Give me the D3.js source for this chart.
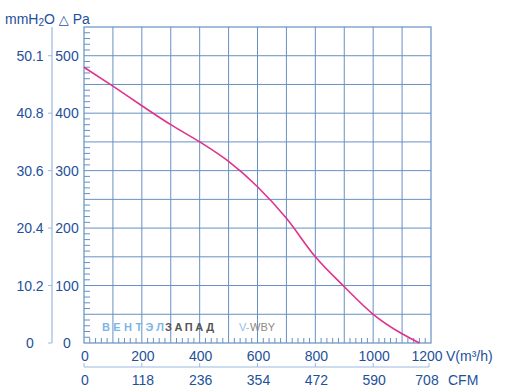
<!DOCTYPE html>
<html>
<head>
<meta charset="utf-8">
<script src="https://cdn.jsdelivr.net/npm/d3@7"></script>
<style>
  body { margin: 0; background: #fff; }
  text { font-family: "Liberation Sans", Arial, sans-serif; }
</style>
</head>
<body>
<div id="chart"></div>
<script>
// data
var flow = [0, 100, 200, 300, 400, 500, 600, 700, 800, 900, 1000, 1100, 1160];
var pressure = [480, 447, 413, 380, 350, 316, 272, 217, 150, 98, 50, 16, 0];

var flowTicks = [0, 200, 400, 600, 800, 1000, 1200];
var cfmLabels = ['0', '118', '236', '354', '472', '590', '708'];
var paTicks = [0, 100, 200, 300, 400, 500];
var mmLabels = ['0', '10.2', '20.4', '30.6', '40.8', '50.1'];

var W = 507, H = 391;
var textColor = '#1d519a';
var gridColor = '#6690c4';

var svg = d3.select('#chart')
  .append('svg')
  .attr('width', W)
  .attr('height', H);

var x = d3.scaleLinear().domain([0, 1200]).range([84, 431]);
var y = d3.scaleLinear().domain([0, 550]).range([343, 27]);

// grid
var g = svg.append('g');

g.selectAll('.vgrid')
  .data(d3.range(100, 1200, 100))
  .enter().append('line')
  .attr('x1', function(d) { return x(d); })
  .attr('x2', function(d) { return x(d); })
  .attr('y1', y(550))
  .attr('y2', y(0))
  .attr('stroke', gridColor)
  .attr('stroke-width', 1);

g.selectAll('.hgrid')
  .data(d3.range(50, 550, 50))
  .enter().append('line')
  .attr('x1', x(0))
  .attr('x2', x(1200))
  .attr('y1', function(d) { return y(d); })
  .attr('y2', function(d) { return y(d); })
  .attr('stroke', gridColor)
  .attr('stroke-width', 1);

// small ticks left (every 10 Pa) and bottom (every 20 m3/h)
g.selectAll('.lt')
  .data(d3.range(10, 550, 10).filter(function(d) { return d % 50 !== 0; }))
  .enter().append('line')
  .attr('x1', x(0))
  .attr('x2', x(0) + 6)
  .attr('y1', function(d) { return y(d); })
  .attr('y2', function(d) { return y(d); })
  .attr('stroke', gridColor);

g.selectAll('.bt')
  .data(d3.range(20, 1200, 20).filter(function(d) { return d % 100 !== 0; }))
  .enter().append('line')
  .attr('x1', function(d) { return x(d); })
  .attr('x2', function(d) { return x(d); })
  .attr('y1', y(0))
  .attr('y2', y(0) - 5)
  .attr('stroke', gridColor);

// frame
g.append('rect')
  .attr('x', x(0))
  .attr('y', y(550))
  .attr('width', x(1200) - x(0))
  .attr('height', y(0) - y(550))
  .attr('fill', 'none')
  .attr('stroke', gridColor)
  .attr('stroke-width', 1.2);

// watermark
var wm = svg.append('g').attr('font-size', '11px');
wm.append('text')
  .text('ВЕНТЭЛ')
  .attr('x', 102).attr('y', 331)
  .attr('textLength', 62).attr('lengthAdjust', 'spacing')
  .attr('font-weight', 'bold')
  .attr('fill', '#7db6e6');
wm.append('text')
  .text('ЗАПАД')
  .attr('x', 165).attr('y', 331)
  .attr('textLength', 49).attr('lengthAdjust', 'spacing')
  .attr('font-weight', 'bold')
  .attr('fill', '#555');
wm.append('text')
  .text('V-')
  .attr('x', 239).attr('y', 331)
  .attr('fill', '#8ec0ea');
wm.append('text')
  .text('WBY')
  .attr('x', 250).attr('y', 331)
  .attr('fill', '#8a8a8a');

// curve
var line = d3.line()
  .x(function(d, i) { return x(flow[i]); })
  .y(function(d) { return y(d); })
  .curve(d3.curveMonotoneX);

svg.append('path')
  .datum(pressure)
  .attr('d', line)
  .attr('fill', 'none')
  .attr('stroke', '#e0318d')
  .attr('stroke-width', 1.6);

// left axes
svg.append('line')
  .attr('x1', 52).attr('x2', 52)
  .attr('y1', y(550)).attr('y2', y(0))
  .attr('stroke', '#9cb9dd')
  .attr('stroke-width', 1.2);

svg.selectAll('.ltick')
  .data(paTicks)
  .enter().append('line')
  .attr('x1', 48).attr('x2', 52)
  .attr('y1', function(d) { return y(d); })
  .attr('y2', function(d) { return y(d); })
  .attr('stroke', '#9cb9dd');

svg.selectAll('.pa')
  .data(paTicks)
  .enter().append('text')
  .text(function(d) { return d; })
  .attr('x', 67)
  .attr('y', function(d) { return y(d) + 5; })
  .attr('text-anchor', 'middle')
  .attr('font-size', '14px')
  .attr('fill', textColor);

svg.selectAll('.mm')
  .data(mmLabels)
  .enter().append('text')
  .text(function(d) { return d; })
  .attr('x', 30)
  .attr('y', function(d, i) { return y(paTicks[i]) + 5; })
  .attr('text-anchor', 'middle')
  .attr('font-size', '14px')
  .attr('fill', textColor);

var head = svg.append('text')
  .attr('x', 5).attr('y', 24)
  .attr('font-size', '14px')
  .attr('fill', textColor);
head.append('tspan').text('mmH');
head.append('tspan').text('2').attr('font-size', '10px').attr('dy', 2);
head.append('tspan').text('O ').attr('dy', -2);
head.append('tspan').text('△').attr('font-size', '13px').attr('font-family', 'DejaVu Sans');
head.append('tspan').text(' Pa');

// bottom axes
svg.selectAll('.fl')
  .data(flowTicks)
  .enter().append('text')
  .text(function(d) { return d; })
  .attr('x', function(d) { return x(d) + (d === 1200 ? -4 : 1); })
  .attr('y', 361)
  .attr('text-anchor', 'middle')
  .attr('font-size', '14px')
  .attr('fill', textColor);

svg.append('text')
  .text('V(m³/h)')
  .attr('x', 446).attr('y', 361)
  .attr('font-size', '14px')
  .attr('fill', textColor);

svg.append('line')
  .attr('x1', x(0)).attr('x2', x(1200) - 2)
  .attr('y1', 367).attr('y2', 367)
  .attr('stroke', '#9cb9dd')
  .attr('stroke-width', 1.2);

svg.selectAll('.ct')
  .data(flowTicks)
  .enter().append('line')
  .attr('x1', function(d) { return Math.min(x(d), x(1200) - 2); })
  .attr('x2', function(d) { return Math.min(x(d), x(1200) - 2); })
  .attr('y1', 367).attr('y2', 363)
  .attr('stroke', '#9cb9dd');

svg.selectAll('.cfm')
  .data(cfmLabels)
  .enter().append('text')
  .text(function(d) { return d; })
  .attr('x', function(d, i) { return x(flowTicks[i]) + (i === 6 ? -4 : 1); })
  .attr('y', 385)
  .attr('text-anchor', 'middle')
  .attr('font-size', '14px')
  .attr('fill', textColor);

svg.append('text')
  .text('CFM')
  .attr('x', 448).attr('y', 385)
  .attr('font-size', '14px')
  .attr('fill', textColor);
</script>
</body>
</html>
